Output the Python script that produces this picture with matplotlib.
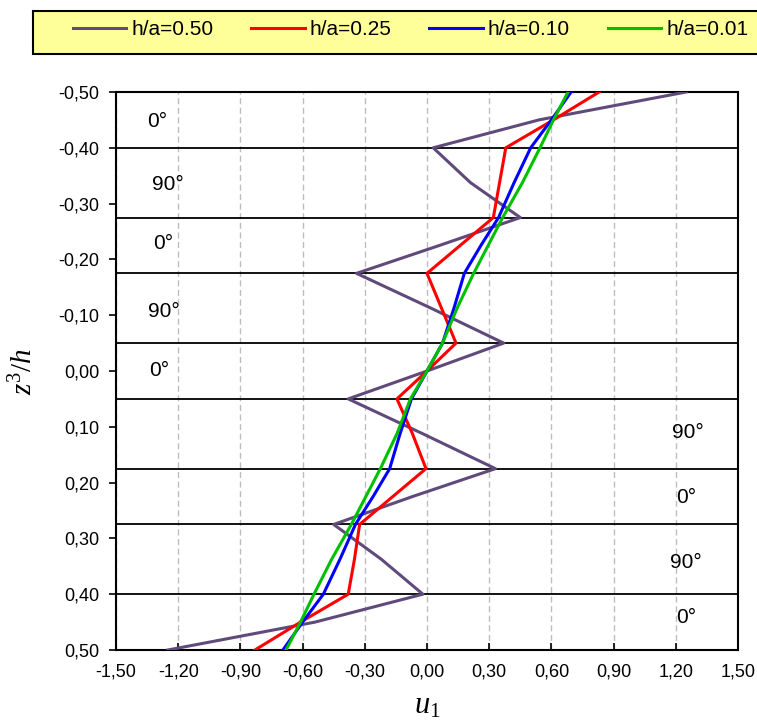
import matplotlib
matplotlib.use("Agg")
import matplotlib.pyplot as plt
from matplotlib.patches import Rectangle
from matplotlib.ticker import FuncFormatter

plt.rcParams["font.family"] = ["Liberation Sans", "DejaVu Sans"]
plt.rcParams["mathtext.fontset"] = "custom"
plt.rcParams["mathtext.it"] = "Liberation Serif:italic"
plt.rcParams["mathtext.rm"] = "Liberation Serif"

# thickness coordinate z3/h: ply interfaces plus mid-ply points
z = [-0.50, -0.45, -0.40, -0.3375, -0.275, -0.225, -0.175, -0.1125, -0.05, 0.00,
     0.05, 0.1125, 0.175, 0.225, 0.275, 0.3375, 0.40, 0.45, 0.50]

# in-plane displacement u1 across the thickness, one list per h/a
u_050 = [1.25, 0.54, 0.03, 0.21, 0.45, 0.06, -0.34, 0.02, 0.37, 0.00,
         -0.38, -0.02, 0.33, -0.07, -0.45, -0.22, -0.02, -0.54, -1.25]
u_025 = [0.83, 0.61, 0.38, 0.35, 0.32, 0.16, 0.00, 0.07, 0.14, 0.00,
         -0.145, -0.07, -0.005, -0.165, -0.325, -0.35, -0.38, -0.61, -0.83]
u_010 = [0.695, 0.60, 0.50, 0.42, 0.345, 0.26, 0.18, 0.13, 0.075, 0.00,
         -0.075, -0.13, -0.18, -0.26, -0.345, -0.42, -0.50, -0.60, -0.695]
u_001 = [0.68, 0.61, 0.545, 0.46, 0.365, 0.295, 0.225, 0.145, 0.075, 0.00,
         -0.08, -0.145, -0.225, -0.295, -0.365, -0.46, -0.545, -0.61, -0.68]

labels = ["h/a=0.50", "h/a=0.25", "h/a=0.10", "h/a=0.01"]
colors = ["#604A7B", "#FF0000", "#0000FF", "#00C000"]

interfaces = [-0.40, -0.275, -0.175, -0.05, 0.05, 0.175, 0.275, 0.40]
plies = ["0°", "90°", "0°", "90°", "0°", "90°", "0°", "90°", "0°"]
ply_xy = [(-1.30, -0.448), (-1.25, -0.335), (-1.27, -0.229), (-1.27, -0.106),
          (-1.29, 0.0), (1.26, 0.110), (1.25, 0.227), (1.25, 0.343), (1.25, 0.442)]

x_ticks = [-1.5, -1.2, -0.9, -0.6, -0.3, 0.0, 0.3, 0.6, 0.9, 1.2, 1.5]
y_ticks = [-0.5, -0.4, -0.3, -0.2, -0.1, 0.0, 0.1, 0.2, 0.3, 0.4, 0.5]

W, H = 757, 720
fig = plt.figure(figsize=(W / 100, H / 100), dpi=100)
ax = fig.add_axes([116 / W, 1 - 650 / H, 622 / W, 558 / H])

lines = []
for u, c, lab in zip([u_050, u_025, u_010, u_001], colors, labels):
    ln, = ax.plot(u, z, color=c, lw=2.2, label=lab, zorder=4)
    lines.append(ln)

for zi in interfaces:
    ax.axhline(zi, color="black", lw=1.3, zorder=3)
for txt, (xu, zz) in zip(plies, ply_xy):
    ax.text(xu, zz, txt, fontsize=15, ha="center", va="center", zorder=5)

ax.set_xlim(-1.5, 1.5)
ax.set_ylim(0.5, -0.5)
ax.set_xticks(x_ticks)
ax.set_yticks(y_ticks)
fmt = FuncFormatter(lambda v, _: f"{v:.2f}".replace(".", ","))
ax.xaxis.set_major_formatter(fmt)
ax.yaxis.set_major_formatter(fmt)
ax.tick_params(axis="x", direction="in", length=5, width=1.2, pad=10, labelsize=13)
ax.tick_params(axis="y", direction="out", length=5, width=1.2, pad=7, labelsize=13)
ax.xaxis.grid(True, color="#BDBDBD", lw=1.0, linestyle=(0, (4.3, 2.6)))
ax.set_axisbelow(True)
for sp in ax.spines.values():
    sp.set_linewidth(1.5)

ax.set_xlabel(r"$u_{\mathit{1}}$", fontsize=22)
ax.xaxis.set_label_coords(0.5, -0.072)
ax.set_ylabel(r"$z^3/h$", fontsize=21)
ax.yaxis.set_label_coords(-0.125, 0.5)

# legend strip along the top, running off the right edge
fig.add_artist(Rectangle((33 / W, 1 - 54 / H), 740 / W, 43 / H, transform=fig.transFigure,
                         facecolor="#FFFF99", edgecolor="black", lw=1.5, clip_on=False))
fig.legend(lines, labels, loc="upper left", bbox_to_anchor=(73 / W, 1 - 20 / H), ncol=4,
           frameon=False, fontsize=15, handlelength=2.55, handletextpad=0.25,
           columnspacing=1.82, borderpad=0, borderaxespad=0)

fig.savefig("out.png", dpi=100)
